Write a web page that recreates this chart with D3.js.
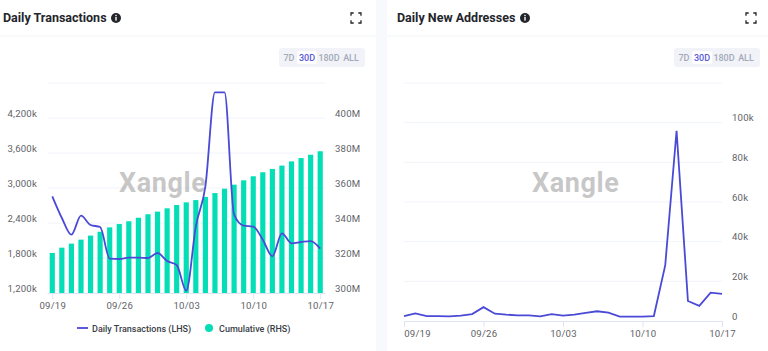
<!DOCTYPE html>
<html>
<head>
<meta charset="utf-8">
<script src="https://cdn.jsdelivr.net/npm/d3@7"></script>
<style>
  html, body { margin: 0; padding: 0; background: #f8f9fc; }
  svg { display: block; }
  text { font-family: Roboto, "Noto Sans", sans-serif; }
  .axis text { font-family: Roboto, sans-serif; font-size: 9.6px; letter-spacing: 0.2px; fill: #5f6368; }
  .axis .domain { display: none; }
</style>
</head>
<body>
<svg id="chart" width="768" height="351"></svg>
<script>
const days = ['09/19','09/20','09/21','09/22','09/23','09/24','09/25','09/26','09/27','09/28','09/29','09/30','10/01','10/02','10/03','10/04','10/05','10/06','10/07','10/08','10/09','10/10','10/11','10/12','10/13','10/14','10/15','10/16','10/17'];
const dateTicks = ['09/19','09/26','10/03','10/10','10/17'];

const dailyTx = [2857,2486,2200,2526,2366,2331,1789,1783,1806,1806,1800,1886,1749,1680,1240,2343,3028,4640,4640,2543,2354,2337,2114,1829,2223,2051,2074,2091,1960];
const cumulative = [322.9,325.9,328.2,330.5,332.8,335,337.5,339.4,341,343,345,346.5,348.4,350.3,351.8,353.1,354.9,357.1,359.6,361.9,364.4,366.7,369,370.9,372.8,375.2,377.1,379,381];
const newAddresses = [2500,3800,2500,2500,2350,2700,3500,7000,3700,3200,2850,2850,2350,3500,2700,3200,4100,4900,4200,2200,2200,2200,2500,28000,95900,10100,7600,14300,13700];

const txTicks = [1200,1800,2400,3000,3600,4200,4800];
const cumTicks = [300,320,340,360,380,400,420];
const addrTicks = [0,20000,40000,60000,80000,100000,120000];
const ranges = ['7D','30D','180D','ALL'];

const BLUE = '#4a4ad6';
const GREEN = '#04deb6';
const GRID = '#f0f4fa';
const AXIS = '#dde4f4';

const svg = d3.select('#chart');

function panel(x0, width, title, infoX, expandX, btnX) {
  const g = svg.append('g');
  g.append('rect').attr('x', x0).attr('y', 0).attr('width', width).attr('height', 351).attr('fill', '#fff');
  g.append('line')
    .attr('x1', x0).attr('x2', x0 + width).attr('y1', 36).attr('y2', 36)
    .attr('stroke', '#f1f3f6');

  const titleX = x0 === 0 ? 3 : 397;
  g.append('text')
    .attr('x', titleX).attr('y', 22)
    .attr('font-size', 12.5).attr('font-weight', 700).attr('fill', '#23252b')
    .text(title);

  // info icon
  g.append('circle').attr('cx', infoX).attr('cy', 18).attr('r', 5).attr('fill', '#23252b');
  g.append('rect').attr('x', infoX - 0.7).attr('y', 17).attr('width', 1.4).attr('height', 3.6).attr('fill', '#fff');
  g.append('rect').attr('x', infoX - 0.7).attr('y', 14.8).attr('width', 1.4).attr('height', 1.4).attr('fill', '#fff');

  // expand icon, four corners
  const s = 4.5, h = 5;
  [[-1,-1],[1,-1],[-1,1],[1,1]].forEach(([dx, dy]) => {
    const cx = expandX + dx * h, cy = 18 + dy * h;
    g.append('path')
      .attr('d', `M${cx - dx * s * 0.6},${cy}H${cx}V${cy - dy * s * 0.6}`)
      .attr('fill', 'none').attr('stroke', '#23252b').attr('stroke-width', 1.3);
  });

  // range buttons
  g.append('rect').attr('x', btnX).attr('y', 48).attr('width', 86).attr('height', 19).attr('rx', 3).attr('fill', '#f1f3f9');
  g.append('rect').attr('x', btnX + 18).attr('y', 51).attr('width', 20).attr('height', 13).attr('rx', 2).attr('fill', '#fff');
  const centers = [10, 28, 50, 72];
  ranges.forEach((r, i) => {
    g.append('text')
      .attr('x', btnX + centers[i]).attr('y', 60.5)
      .attr('text-anchor', 'middle').attr('font-size', 9).attr('font-weight', 500)
      .attr('fill', i === 1 ? '#5a5ad8' : '#a3a9b8')
      .text(r);
  });
}

function watermark(x) {
  svg.append('text')
    .attr('x', x).attr('y', 192)
    .attr('font-family', 'Lato, sans-serif')
    .attr('font-size', 27).attr('font-weight', 700).attr('letter-spacing', 0.6)
    .attr('fill', '#8f8f8f').attr('fill-opacity', 0.5)
    .text('Xangle');
}

function bottomAxis(g, scale, offset, y) {
  const axis = d3.axisBottom(scale).tickValues(dateTicks).tickSize(6).tickSizeOuter(0);
  const ax = g.append('g').attr('class', 'axis').attr('transform', `translate(${offset},${y})`).call(axis);
  ax.selectAll('line').attr('stroke', AXIS);
  return ax;
}

// left panel
panel(0, 376, 'Daily Transactions', 116, 356, 279);

const left = svg.append('g');
const x1 = d3.scaleBand().domain(days).range([47.5, 325]).paddingInner(0.46).paddingOuter(0.23);
const yTx = d3.scaleLinear().domain([1200, 4800]).range([293, 83]);
const yCum = d3.scaleLinear().domain([300, 420]).range([293, 83]);
const cx1 = d => x1(d) + x1.bandwidth() / 2;

left.append('g').selectAll('line').data(txTicks.slice(1)).enter().append('line')
  .attr('x1', 47.5).attr('x2', 325)
  .attr('y1', d => yTx(d)).attr('y2', d => yTx(d))
  .attr('stroke', GRID);

left.append('g').selectAll('rect').data(cumulative).enter().append('rect')
  .attr('x', (d, i) => x1(days[i]))
  .attr('y', d => yCum(d))
  .attr('width', x1.bandwidth())
  .attr('height', d => 293 - yCum(d))
  .attr('fill', GREEN);

left.append('line').attr('x1', 47.5).attr('x2', 325).attr('y1', 293.5).attr('y2', 293.5).attr('stroke', AXIS);

left.append('path')
  .datum(dailyTx)
  .attr('fill', 'none').attr('stroke', BLUE).attr('stroke-width', 1.8)
  .attr('d', d3.line().x((d, i) => cx1(days[i])).y(d => yTx(d)).curve(d3.curveMonotoneX));

const xTickScale1 = d3.scalePoint().domain(days).range([cx1(days[0]), cx1(days[28])]);
bottomAxis(left, xTickScale1, 0, 293);

left.append('g').attr('class', 'axis').attr('transform', 'translate(37,-5)')
  .call(d3.axisLeft(yTx).tickValues(txTicks.slice(0, -1)).tickSize(0).tickPadding(0).tickFormat(v => d3.format(',')(v) + 'k'));
left.append('g').attr('class', 'axis').attr('transform', 'translate(335,-5)')
  .call(d3.axisRight(yCum).tickValues(cumTicks.slice(0, -1)).tickSize(0).tickPadding(0).tickFormat(v => v + 'M'));

watermark(119);

// legend
left.append('line').attr('x1', 77).attr('x2', 88).attr('y1', 328).attr('y2', 328).attr('stroke', BLUE).attr('stroke-width', 1.8);
left.append('text').attr('x', 92).attr('y', 331.5).attr('font-size', 9).attr('font-weight', 500).attr('fill', '#3a3d45').text('Daily Transactions (LHS)');
left.append('circle').attr('cx', 209).attr('cy', 328).attr('r', 4).attr('fill', GREEN);
left.append('text').attr('x', 219).attr('y', 331.5).attr('font-size', 9).attr('font-weight', 500).attr('fill', '#3a3d45').text('Cumulative (RHS)');

// right panel
panel(387, 381, 'Daily New Addresses', 525, 751, 674);

const right = svg.append('g');
const x2 = d3.scalePoint().domain(days).range([404, 722]);
const yAddr = d3.scaleLinear().domain([0, 120000]).range([321, 83]);

right.append('g').selectAll('line').data(addrTicks.slice(1)).enter().append('line')
  .attr('x1', 404).attr('x2', 722)
  .attr('y1', d => yAddr(d)).attr('y2', d => yAddr(d))
  .attr('stroke', GRID);

right.append('line').attr('x1', 404).attr('x2', 722).attr('y1', 321.5).attr('y2', 321.5).attr('stroke', AXIS);

right.append('path')
  .datum(newAddresses)
  .attr('fill', 'none').attr('stroke', BLUE).attr('stroke-width', 1.8)
  .attr('d', d3.line().x((d, i) => x2(days[i])).y(d => yAddr(d)));

const ax2 = bottomAxis(right, x2, 0, 321);
ax2.selectAll('.tick text').filter(d => d === '09/19').attr('x', 13);

right.append('g').attr('class', 'axis').attr('transform', 'translate(732,-5)')
  .call(d3.axisRight(yAddr).tickValues(addrTicks.slice(0, -1)).tickSize(0).tickPadding(0).tickFormat(v => v === 0 ? '0' : (v / 1000) + 'k'));

watermark(532);
</script>
</body>
</html>
